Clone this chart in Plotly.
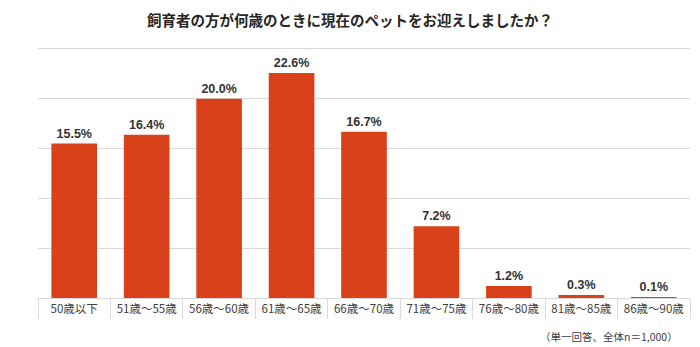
import plotly.graph_objects as go

categories = ["50歳以下", "51歳～55歳", "56歳～60歳", "61歳～65歳", "66歳～70歳",
              "71歳～75歳", "76歳～80歳", "81歳～85歳", "86歳～90歳"]
values = [15.5, 16.4, 20.0, 22.6, 16.7, 7.2, 1.2, 0.3, 0.1]
labels = [f"{v:.1f}%" for v in values]
title = "飼育者の方が何歳のときに現在のペットをお迎えしましたか？"
note = "（単一回答、全体n＝1,000）"

fig = go.Figure(go.Bar(
    x=categories, y=values, text=labels, textposition="outside",
    marker=dict(color="#D9411A", line=dict(width=0)),
    textfont=dict(family="Liberation Sans, Arial", size=12.5, color="#333333", weight="bold"),
    cliponaxis=False,
))

fig.update_layout(
    width=700, height=347,
    margin=dict(l=38, r=10, t=44, b=49),
    paper_bgcolor="white", plot_bgcolor="white",
    bargap=0.37,
    showlegend=False,
    title=dict(text=title, x=0.5, xanchor="center", y=0.94, yanchor="middle",
               font=dict(family="Noto Sans CJK JP", size=14.5, color="#262626", weight="bold")),
    xaxis=dict(tickson="boundaries", ticks="outside", ticklen=20, tickcolor="#d9d9d9",
               showline=True, linecolor="#d9d9d9", showgrid=False,
               tickfont=dict(family="Noto Sans CJK JP", size=11.5, color="#404040")),
    yaxis=dict(range=[0, 25.5], tick0=0, dtick=5, showticklabels=False, gridcolor="#d9d9d9",
               zeroline=False, showline=False, ticks=""),
    annotations=[dict(text=note, x=0.985, xref="paper", xanchor="right", y=-0.15,
                      yref="paper", yanchor="middle", showarrow=False,
                      font=dict(family="Noto Sans CJK JP", size=10.5, color="#404040"))],
)
fig.write_html("out.html")
